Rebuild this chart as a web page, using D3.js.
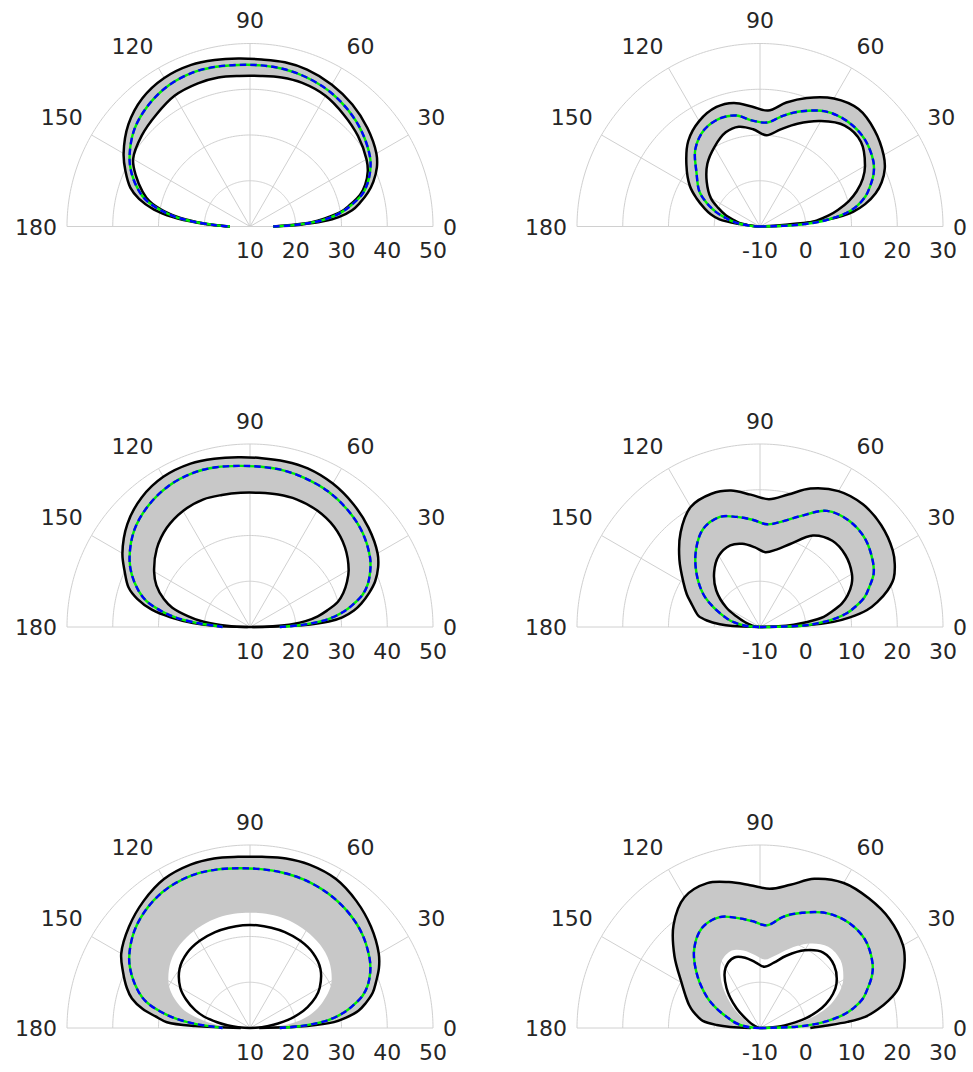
<!DOCTYPE html>
<html><head><meta charset="utf-8">
<script src="https://cdn.jsdelivr.net/npm/d3@7"></script>
<style>html,body{margin:0;padding:0;background:#fff;} svg{display:block;}</style>
</head><body>
<svg id="c" width="973" height="1072"></svg>
<script>
// ---------- data ----------
const angles = [0, 2, 4, 6, 9, 12, 16, 20, 25, 30, 40, 50, 60, 70, 78, 86, 94, 102, 110, 120, 130, 140, 150, 156, 162, 166, 170, 173, 176, 178, 180];
const angleTicks = [0, 30, 60, 90, 120, 150, 180];
const leftTicks = [10, 20, 30, 40, 50];
const rightTicks = [-10, 0, 10, 20, 30];
const leftTickLabels = ["10", "20", "30", "40", "50"];
const rightTickLabels = ["-10", "0", "10", "20", "30"];

// row 1, left
const tlOuter = [15.1, 21.0, 26.0, 29.5, 32.6, 34.5, 36.8, 38.7, 40.6, 41.9, 43.5, 44.8, 45.8, 46.5, 46.7, 46.6, 46.8, 47.2, 47.6, 47.5, 46.6, 44.7, 41.9, 39.8, 37.5, 35.0, 31.3, 27.0, 21.5, 17.8, 14.4];
const tlMean  = [15.1, 20.0, 24.3, 27.3, 30.4, 32.7, 35.5, 37.3, 39.0, 40.3, 42.0, 43.3, 44.3, 44.9, 45.2, 45.3, 45.4, 45.7, 45.9, 45.6, 44.6, 43.0, 40.4, 38.3, 35.6, 33.3, 29.5, 26.0, 20.8, 17.2, 14.4];
const tlInner = [15.1, 19.0, 23.5, 26.3, 30.0, 32.2, 35.0, 36.8, 38.4, 39.4, 40.8, 41.9, 43.0, 43.4, 43.3, 43.0, 43.0, 43.3, 43.3, 43.0, 41.9, 40.9, 39.5, 37.3, 34.7, 32.6, 29.0, 25.3, 20.3, 16.8, 14.4];
// row 2, left
const mlOuter = [10.5, 21.5, 27.3, 30.3, 33.0, 34.9, 37.1, 39.1, 40.9, 42.2, 43.8, 45.1, 46.2, 46.9, 47.0, 47.0, 47.2, 47.6, 48.0, 47.9, 46.9, 45.0, 42.2, 40.0, 37.9, 35.4, 31.8, 27.5, 22.5, 18.0, 10.5];
const mlMean  = [16.5, 20.8, 24.5, 27.5, 30.5, 32.8, 35.6, 37.4, 39.0, 40.3, 42.1, 43.3, 44.2, 44.7, 45.0, 45.1, 45.3, 45.7, 45.9, 45.6, 44.6, 43.0, 40.4, 38.3, 35.6, 33.3, 29.5, 26.0, 21.0, 17.5, 16.0];
const mlInner = [10.0, 15.0, 19.5, 22.2, 25.0, 27.2, 30.0, 31.7, 33.4, 34.9, 37.1, 38.6, 39.4, 39.7, 39.6, 39.4, 39.4, 39.5, 39.7, 39.3, 38.3, 36.6, 34.2, 32.4, 29.8, 27.5, 23.8, 20.8, 16.5, 13.6, 10.0];
// row 3, left
const blOuter = [12.0, 22.5, 28.4, 31.0, 34.0, 35.8, 37.9, 39.3, 41.1, 42.5, 44.5, 46.2, 47.6, 48.0, 47.9, 47.5, 47.5, 47.9, 48.0, 47.6, 46.2, 44.5, 42.5, 40.4, 38.3, 36.6, 33.8, 30.8, 28.2, 22.0, 12.0];
const blMean  = [16.5, 20.8, 24.5, 27.5, 30.5, 32.8, 35.6, 37.4, 39.0, 40.2, 42.0, 43.2, 44.0, 44.5, 44.7, 44.8, 45.0, 45.4, 45.7, 45.5, 44.6, 43.0, 40.5, 38.3, 35.6, 33.3, 29.5, 26.0, 21.5, 18.0, 16.0];
const blInner = [10.0, 11.2, 12.6, 13.8, 16.2, 18.5, 21.1, 23.4, 25.8, 27.6, 30.1, 31.4, 32.0, 32.3, 32.4, 32.5, 32.5, 32.4, 32.3, 32.0, 31.4, 30.1, 27.6, 25.3, 22.6, 20.4, 17.3, 15.0, 12.6, 11.2, 10.0];
const blBand  = [10.5, 13.5, 16.5, 18.8, 21.3, 23.2, 25.3, 27.0, 29.0, 30.6, 32.6, 33.8, 34.5, 35.0, 35.2, 35.2, 35.2, 35.2, 35.0, 34.5, 33.8, 32.6, 30.6, 28.8, 26.3, 24.2, 21.0, 18.5, 15.5, 13.5, 10.5];
// row 1, right
const trOuter = [-10, -9.0, -5.0, 5.4, 10.6, 13.5, 16.3, 18.3, 20.1, 21.2, 22.7, 23.5, 22.3, 19.9, 17.7, 15.4, 16.3, 17.6, 17.8, 16.6, 14.4, 11.0, 7.7, 5.2, 2.7, 1.1, -1.0, -5.5, -9.3, -9.8, -10];
const trMean  = [-10, -3.5, 1.8, 5.2, 9.2, 11.7, 14.0, 15.6, 17.4, 18.6, 19.8, 19.9, 19.0, 16.8, 14.8, 12.8, 13.2, 14.8, 15.2, 14.4, 12.0, 8.1, 5.3, 2.8, 0.0, -2.3, -4.0, -6.0, -8.0, -9.0, -10];
const trInner = [-10, -5.0, 0.0, 2.4, 5.1, 7.4, 10.2, 12.5, 14.8, 16.5, 18.8, 18.8, 16.6, 13.9, 11.7, 10.0, 11.3, 12.3, 11.9, 10.0, 7.9, 5.2, 2.4, 0.0, -2.2, -4.0, -5.4, -7.1, -8.5, -9.3, -10];
// row 2, right
const mrOuter = [-10, 0.0, 6.1, 9.6, 13.7, 16.2, 19.0, 21.1, 22.5, 23.5, 24.6, 25.0, 24.3, 22.2, 19.6, 18.0, 19.0, 20.5, 21.0, 20.3, 17.0, 13.0, 9.3, 7.5, 5.6, 4.6, 3.6, 1.7, -1.2, -4.0, -10];
const mrMean  = [-10, -0.3, 3.0, 6.0, 9.2, 11.3, 13.8, 15.4, 17.4, 18.5, 20.0, 20.3, 19.3, 15.8, 13.6, 12.5, 13.5, 14.6, 15.6, 14.8, 11.8, 8.1, 4.3, 1.5, -1.2, -2.7, -4.3, -5.8, -7.5, -8.8, -10];
const mrInner = [-10, -6.0, -2.6, 0.4, 4.1, 6.0, 8.6, 10.4, 12.1, 13.2, 14.4, 14.6, 13.1, 9.3, 7.3, 6.4, 7.5, 8.6, 9.0, 8.0, 5.6, 2.5, -1.5, -4.5, -6.5, -7.5, -8.3, -8.9, -9.4, -9.7, -10];
// row 3, right
const brOuter = [1.0, 4.3, 9.2, 13.1, 16.1, 18.7, 21.5, 23.2, 24.9, 26.1, 27.0, 27.0, 26.6, 24.7, 22.0, 20.5, 21.3, 22.6, 23.7, 23.0, 19.4, 14.4, 9.8, 7.9, 6.3, 5.1, 3.7, 2.6, -0.5, -3.5, -8.0];
const brMean  = [-10, -2.0, 2.0, 4.9, 8.4, 10.9, 13.4, 15.0, 17.0, 18.4, 20.0, 20.1, 19.0, 16.8, 14.9, 12.5, 13.4, 14.6, 15.8, 15.3, 12.4, 7.9, 3.3, 0.3, -2.5, -3.8, -5.2, -6.4, -7.8, -8.9, -10];
const brInner = [-10, -8.3, -6.2, -4.6, -2.2, 0.3, 3.0, 5.3, 7.6, 9.3, 11.2, 11.5, 9.6, 6.8, 4.6, 3.4, 4.4, 5.7, 6.4, 5.1, 1.4, -3.3, -7.2, -8.4, -9.2, -9.6, -9.8, -9.9, -10, -10, -10];
const brBand  = [-10, -7.5, -5.0, -3.0, -0.3, 2.0, 4.8, 7.0, 9.3, 11.0, 13.0, 13.2, 11.3, 8.4, 6.2, 5.0, 6.0, 7.3, 8.0, 6.8, 3.1, -1.5, -5.5, -7.2, -8.4, -9.0, -9.5, -9.7, -9.9, -10, -10];

// ---------- layout ----------
const R = 183;
const panels = [
  {cx: 250, cy: 226.5, domain: [10, 50], ticks: leftTicks, tickLabels: leftTickLabels, outer: tlOuter, mean: tlMean, inner: tlInner, band: tlInner},
  {cx: 760, cy: 226.5, domain: [-10, 30], ticks: rightTicks, tickLabels: rightTickLabels, outer: trOuter, mean: trMean, inner: trInner, band: trInner},
  {cx: 250, cy: 627, domain: [10, 50], ticks: leftTicks, tickLabels: leftTickLabels, outer: mlOuter, mean: mlMean, inner: mlInner, band: mlInner},
  {cx: 760, cy: 627, domain: [-10, 30], ticks: rightTicks, tickLabels: rightTickLabels, outer: mrOuter, mean: mrMean, inner: mrInner, band: mrInner},
  {cx: 250, cy: 1028, domain: [10, 50], ticks: leftTicks, tickLabels: leftTickLabels, outer: blOuter, mean: blMean, inner: blInner, band: blBand},
  {cx: 760, cy: 1028, domain: [-10, 30], ticks: rightTicks, tickLabels: rightTickLabels, outer: brOuter, mean: brMean, inner: brInner, band: brBand}
];

const svg = d3.select('#c');
const FONT = '"DejaVu Sans", sans-serif';
const FS = 22;
const TXT = '#262626';
const GRID = '#d0d0d0';
const toRad = deg => (90 - deg) * Math.PI / 180;
const semi = d3.range(0, 181, 1);

panels.forEach(p => {
  const g = svg.append('g').attr('transform', `translate(${p.cx},${p.cy})`);
  const r = d3.scaleLinear().domain(p.domain).range([0, R]).clamp(true);

  // grid arcs
  const arcLine = d3.lineRadial().angle(a => toRad(a));
  p.ticks.forEach(t => {
    if (r(t) <= 0) return;
    g.append('path')
      .attr('d', arcLine.radius(r(t))(semi))
      .attr('fill', 'none').attr('stroke', GRID).attr('stroke-width', 1);
  });
  // spokes
  angleTicks.forEach(a => {
    const x = R * Math.cos(a * Math.PI / 180), y = -R * Math.sin(a * Math.PI / 180);
    g.append('line').attr('x1', 0).attr('y1', 0).attr('x2', x).attr('y2', y)
      .attr('stroke', GRID).attr('stroke-width', 1);
  });

  const curve = d3.curveCatmullRom.alpha(0.5);
  // grey ensemble band
  const area = d3.areaRadial()
    .angle((d, i) => toRad(angles[i]))
    .innerRadius((d, i) => r(p.band[i]))
    .outerRadius((d, i) => r(p.outer[i]))
    .curve(curve);
  g.append('path').datum(p.outer).attr('d', area).attr('fill', '#c8c8c8').attr('stroke', 'none');

  const line = d3.lineRadial()
    .angle((d, i) => toRad(angles[i]))
    .radius(d => r(d))
    .curve(curve);

  // envelopes
  [p.outer, p.inner].forEach(arr => {
    g.append('path').datum(arr).attr('d', line)
      .attr('fill', 'none').attr('stroke', '#000').attr('stroke-width', 2.5)
      .attr('stroke-linejoin', 'round');
  });
  // mean: green with blue dashes
  g.append('path').datum(p.mean).attr('d', line)
    .attr('fill', 'none').attr('stroke', '#00ee00').attr('stroke-width', 2.4);
  g.append('path').datum(p.mean).attr('d', line)
    .attr('fill', 'none').attr('stroke', '#0000ff').attr('stroke-width', 2.4)
    .attr('stroke-dasharray', '6.5,4');

  // angular labels
  angleTicks.forEach(a => {
    const rad = a * Math.PI / 180;
    const d = R + 10;
    const x = d * Math.cos(rad), y = -d * Math.sin(rad);
    let anchor = 'middle';
    if (Math.cos(rad) > 0.01) anchor = 'start';
    else if (Math.cos(rad) < -0.01) anchor = 'end';
    let ty;
    if (a === 0 || a === 180) ty = y + 8;
    else ty = y - 5.4;
    g.append('text').attr('x', x).attr('y', ty)
      .attr('text-anchor', anchor)
      .attr('font-family', FONT).attr('font-size', FS).attr('fill', TXT)
      .text(String(a));
  });
  // radial labels
  p.ticks.forEach((t, i) => {
    g.append('text').attr('x', r(t)).attr('y', 31.6)
      .attr('text-anchor', 'middle')
      .attr('font-family', FONT).attr('font-size', FS).attr('fill', TXT)
      .text(p.tickLabels[i]);
  });
});
</script>
</body></html>
